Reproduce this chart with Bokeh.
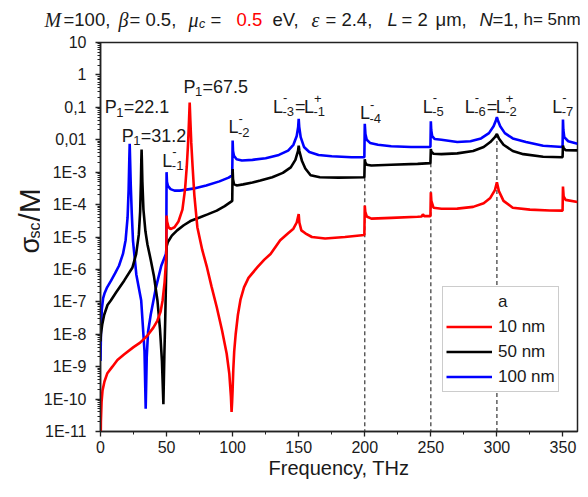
import math
from bokeh.plotting import figure
from bokeh.models import Range1d, FixedTicker, Label, Legend, LegendItem
from bokeh.layouts import column, row
from bokeh.embed import file_html
from bokeh.resources import INLINE

# ---------------- data ----------------
freq_100nm = [0.0, 0.4, 1.0, 2.0, 3.0, 5.0, 8.0, 11.0, 14.0, 17.0, 19.0, 20.5, 21.3, 21.8, 22.1,
              22.4, 22.9, 23.7, 24.6, 27.1, 30.8, 33.3, 34.2, 35.0, 36.0, 38.0, 42.0, 46.0, 49.5,
              49.8, 50.0, 50.3, 51.0, 53.0, 56.0, 60.0, 70.0, 80.0, 90.0, 97.0, 99.7, 100.0, 100.3,
              101.0, 103.0, 107.0, 115.0, 125.0, 135.0, 142.0, 146.0, 148.5, 149.6, 150.0, 150.4,
              151.5, 154.0, 158.0, 165.0, 175.0, 190.0, 199.7, 200.0, 200.5, 201.5, 204.0, 210.0,
              220.0, 235.0, 249.7, 250.0, 250.3, 251.0, 253.0, 258.0, 270.0, 280.0, 288.0, 294.0,
              297.5, 299.3, 300.0, 300.7, 302.5, 306.0, 312.0, 322.0, 335.0, 349.7, 350.0, 350.3,
              351.0, 354.0, 361.0]
sigma_100nm = [1.5e-9, 1.5e-8, 6e-8, 1.3e-7, 1.8e-7, 2.8e-7, 4.5e-7, 7.5e-7, 1.3e-6, 3e-6, 8e-6,
               4e-5, 3e-4, 2.5e-3, 7.5e-3,
               2.5e-3, 4e-4, 5e-5, 7.6e-6, 7e-7, 1.1e-7, 3e-9, 5e-11, 2e-9, 1.2e-8, 4e-8, 2.8e-7,
               1.3e-6, 3e-6,
               4e-6, 1e-3, 5e-4, 3.8e-4, 3e-4, 2.7e-4, 2.7e-4, 3.1e-4, 3.9e-4, 5.2e-4, 6.8e-4, 8e-4,
               9.5e-3, 4.5e-3,
               3.2e-3, 2.5e-3, 2.3e-3, 2.4e-3, 2.7e-3, 3.4e-3, 4.6e-3, 7e-3, 1.3e-2, 2.5e-2, 4.4e-2,
               2.5e-2,
               1.2e-2, 6e-3, 4.2e-3, 3.4e-3, 3.1e-3, 2.9e-3, 2.9e-3, 3.1e-2, 1.5e-2, 1e-2, 8e-3,
               7e-3,
               6.3e-3, 6e-3, 6e-3, 3.7e-2, 2e-2, 1.3e-2, 1.05e-2, 1e-2, 8.5e-3, 9e-3, 1.1e-2, 1.6e-2,
               2.6e-2, 4e-2, 5e-2, 4e-2, 2.6e-2, 1.6e-2, 1.1e-2, 8.5e-3, 6.5e-3, 6e-3, 4.2e-2, 2e-2,
               1.2e-2, 9e-3, 7.5e-3]

freq_50nm = [0.0, 0.3, 1.3, 2.8, 5.3, 7.8, 12.0, 17.9, 24.2, 27.0, 29.0, 30.0, 30.6, 30.9, 31.1,
             31.3, 31.7, 32.5, 34.0, 35.5, 38.0, 40.5, 43.1, 45.0, 46.5, 47.6, 48.3, 49.0, 49.6,
             49.9, 50.0, 51.0, 54.0, 58.0, 63.0, 68.0, 75.0, 81.0, 88.0, 94.0, 99.7, 100.0, 100.3,
             101.0, 103.0, 108.0, 115.0, 121.0, 130.0, 138.0, 144.0, 147.5, 149.5, 150.0, 150.5,
             152.5, 155.0, 159.0, 166.0, 180.0, 199.7, 200.0, 200.4, 201.5, 205.0, 220.0, 240.0,
             249.7, 250.0, 250.4, 252.0, 258.0, 270.0, 282.0, 290.0, 295.0, 298.5, 300.0, 301.5,
             305.0, 312.0, 320.0, 335.0, 349.7, 350.0, 350.5, 352.0, 361.0]
sigma_50nm = [6e-9, 1e-8, 2e-8, 4e-8, 8e-8, 1.1e-7, 2e-7, 4.5e-7, 1.15e-6, 3e-6, 1.2e-5, 6e-5,
              5e-4, 2.5e-3, 5e-3,
              2.5e-3, 5e-4, 7e-5, 1.5e-5, 6e-6, 2e-6, 6e-7, 1.1e-7, 1.5e-8, 1.5e-9, 7e-11, 2e-9,
              3e-8, 5e-7,
              2e-6, 5e-6, 7e-6, 1.1e-5, 1.6e-5, 2.3e-5, 3.1e-5, 4e-5, 5e-5, 6.5e-5, 9e-5, 1.3e-4,
              1.25e-3, 6e-4,
              4.3e-4, 3.9e-4, 4.2e-4, 4.8e-4, 5.5e-4, 7e-4, 9.5e-4, 1.4e-3, 2.4e-3, 4.5e-3, 6.6e-3,
              4.5e-3,
              2.2e-3, 1.3e-3, 8e-4, 7e-4, 6.8e-4, 7e-4, 2.5e-3, 2e-3, 1.7e-3, 1.6e-3, 1.7e-3, 1.8e-3,
              1.9e-3, 5.2e-3, 4.3e-3, 3.7e-3, 3.6e-3, 3.8e-3, 4.5e-3, 6e-3, 8.5e-3, 1.2e-2, 1.5e-2,
              1.1e-2,
              7e-3, 4.5e-3, 3.6e-3, 3e-3, 2.9e-3, 6.6e-3, 5.5e-3, 4.8e-3, 4.7e-3]

freq_10nm = [0.0, 0.3, 0.8, 1.5, 3.0, 5.2, 9.0, 12.8, 18.0, 25.0, 30.0, 35.4, 40.0, 43.0, 45.5,
             47.0, 48.5, 49.3, 49.8, 50.0, 50.4, 51.5, 53.0, 56.0, 59.0, 62.0, 64.0, 65.3, 66.3,
             67.0, 67.5, 68.0, 68.7, 69.7, 71.0, 73.3, 77.0, 80.6, 84.0, 88.0, 92.0, 95.5, 97.5,
             98.7, 99.2, 99.6, 100.0, 100.5, 101.2, 102.3, 104.0, 106.0, 108.6, 112.0, 118.6,
             124.0, 128.7, 136.0, 142.0, 146.0, 148.5, 150.0, 150.5, 152.0, 155.0, 160.0, 170.0,
             185.0, 199.7, 200.0, 200.4, 201.5, 205.0, 220.0, 240.0, 243.0, 244.0, 245.0, 249.7,
             250.0, 250.4, 252.0, 258.0, 270.0, 282.0, 290.0, 295.0, 298.5, 300.0, 301.5, 305.0,
             312.0, 325.0, 340.0, 349.7, 350.0, 350.5, 352.0, 361.0]
sigma_10nm = [1e-12, 2e-11, 8e-11, 1.8e-10, 3.5e-10, 6.3e-10, 1e-9, 1.6e-9, 2.4e-9, 4e-9, 5.5e-9,
              9e-9, 1.6e-8, 2.6e-8, 5e-8,
              1.1e-7, 4e-7, 1.2e-6, 3e-6, 4.6e-5, 3e-5, 2e-5, 1.75e-5, 2e-5, 3e-5, 7e-5, 3e-4,
              1.5e-3, 8e-3,
              4e-2, 1.4e-1, 4e-2, 8e-3, 1.5e-3, 2e-4, 2e-5, 4e-6, 1.15e-6, 3e-7, 6.8e-8, 1.3e-8,
              2.5e-9, 6e-10,
              1.2e-10, 4e-11, 8e-11, 2e-10, 8e-10, 3e-9, 1e-8, 4e-8, 1.2e-7, 2.8e-7, 5.5e-7, 1.15e-6,
              2e-6, 3e-6, 7.9e-6, 1.3e-5, 1.8e-5, 2.8e-5, 5.1e-5, 2.8e-5, 1.6e-5, 1.3e-5, 1e-5,
              9e-6,
              1e-5, 1.15e-5, 9.3e-5, 6e-5, 4.3e-5, 3.7e-5, 3.9e-5, 4.2e-5, 4.3e-5, 5e-5, 4.4e-5,
              4.4e-5,
              2.4e-4, 1.3e-4, 8e-5, 7.4e-5, 7.5e-5, 8.5e-5, 1.1e-4, 1.6e-4, 2.8e-4, 4.9e-4, 2.6e-4,
              1.3e-4,
              8e-5, 7e-5, 6.6e-5, 6.5e-5, 3.6e-4, 1.8e-4, 1.4e-4, 1.2e-4]

dash_freq = [200, 250, 300]
dash_top = [7e-4, 1.9e-3, 1.5e-2]

x_ticks = [0, 50, 100, 150, 200, 250, 300, 350]
x_minor = [25, 75, 125, 175, 225, 275, 325]
y_exps = list(range(-11, 2))
y_tick_labels = ["1E-11", "1E-10", "1E-9", "1E-8", "1E-7", "1E-6", "1E-5", "1E-4", "1E-3",
                 "0,01", "0,1", "1", "10"]
legend_labels = ["10 nm", "50 nm", "100 nm"]

FONT = "Liberation Sans"
SERIF = "Liberation Serif"
TXT = "#1a1a1a"

TOTAL_W, TITLE_H, YLAB_W = 580, 32, 40
MAIN_H = 489 - TITLE_H
BORDER_TOP, BORDER_BOTTOM = 42 - TITLE_H, 58
FRAME_H = MAIN_H - BORDER_TOP - BORDER_BOTTOM
FRAME_BOTTOM_PAGE = TITLE_H + MAIN_H - BORDER_BOTTOM


def add_text(fig, x, y, text, dx=0, dy=0, size=18, color=TXT, font=FONT, style="normal",
             angle=0.0, baseline="alphabetic"):
    fig.add_layout(Label(x=x, y=y, text=text, x_offset=dx, y_offset=dy, text_font=font,
                         text_font_size=f"{size}px", text_color=color,
                         text_font_style=style, text_align="left",
                         text_baseline=baseline, angle=angle))


def blank_fig(w, h, yr, top=0, bottom=0):
    f = figure(width=w, height=h, output_backend="svg", toolbar_location=None,
               x_range=Range1d(0, w), y_range=Range1d(0, yr), min_border_left=0,
               min_border_right=0, min_border_top=top, min_border_bottom=bottom,
               x_axis_location=None, y_axis_location=None)
    f.outline_line_color = None
    f.grid.visible = False
    f.background_fill_color = "white"
    f.border_fill_color = "white"
    return f


# ---------------- title strip ----------------
tf = blank_fig(TOTAL_W, TITLE_H, TITLE_H)
TB = TITLE_H - 19  # baseline at page y = 19


def tt(px, text, size=18.5, color=TXT, font=FONT, style="normal", dy=0):
    add_text(tf, px, TB, text, dy=dy, size=size, color=color, font=font, style=style)


tt(44, "M", size=20, font=SERIF, style="italic")
tt(63, "=100,")
tt(118, "β", size=20, font=SERIF, style="italic")
tt(129, "= 0.5,")
tt(188, "μ", size=20, font=SERIF, style="italic")
tt(198.5, "c", size=12.5, style="italic", dy=-4)
tt(210, "=")
tt(236, "0.5", color="#ff0000")
tt(272, "eV,")
tt(311, "ε", size=20, font=SERIF, style="italic")
tt(325, "= 2.4,")
tt(387, "L", style="italic")
tt(401, "= 2")
tt(435, "μm,")
tt(479, "N", style="italic")
tt(492, "=1,")
tt(523, "h= 5nm", size=17)

# ---------------- y-label strip (frame aligned with the main frame) ----------------
yf = blank_fig(YLAB_W, MAIN_H, FRAME_H, top=BORDER_TOP, bottom=BORDER_BOTTOM)
add_text(yf, 29.0, FRAME_BOTTOM_PAGE - 253, "σ", size=27, angle=math.pi / 2, baseline="middle")
add_text(yf, 33.5, FRAME_BOTTOM_PAGE - 238, "sc", size=16, angle=math.pi / 2, baseline="middle")
add_text(yf, 28.5, FRAME_BOTTOM_PAGE - 221, "/M", size=30, angle=math.pi / 2, baseline="middle")

# ---------------- main plot ----------------
p = figure(width=TOTAL_W - YLAB_W, height=MAIN_H, output_backend="svg", toolbar_location=None,
           x_range=Range1d(0, 361), y_range=Range1d(1e-11, 10), y_axis_type="log",
           min_border_left=60, min_border_right=3, min_border_top=BORDER_TOP,
           min_border_bottom=BORDER_BOTTOM)
p.background_fill_color = "white"
p.border_fill_color = "white"
p.outline_line_color = "#222222"
p.outline_line_width = 1.5
p.xgrid.visible = False
p.ygrid.visible = False

y_major = [10.0 ** e for e in y_exps]
y_minor = [m * 10.0 ** e for e in y_exps[:-1] for m in range(2, 10)]
p.xaxis.ticker = FixedTicker(ticks=x_ticks, minor_ticks=x_minor)
p.yaxis.ticker = FixedTicker(ticks=y_major, minor_ticks=y_minor)
p.yaxis.major_label_overrides = {v: s for v, s in zip(y_major, y_tick_labels)}

for ax in (p.xaxis, p.yaxis):
    ax.axis_line_width = 1.5
    ax.axis_line_color = "#222222"
    ax.major_tick_line_color = "#222222"
    ax.minor_tick_line_color = "#222222"
    ax.major_tick_line_width = 1.3
    ax.major_tick_out = 5
    ax.major_tick_in = 0
    ax.minor_tick_out = 3
    ax.minor_tick_in = 0
    ax.major_label_text_font = FONT
    ax.major_label_text_font_size = "16px"
    ax.major_label_text_color = TXT
p.yaxis.major_label_standoff = 9
p.xaxis.major_label_standoff = 4
p.xaxis.axis_label = "Frequency, THz"
p.xaxis.axis_label_text_font = FONT
p.xaxis.axis_label_text_font_size = "20px"
p.xaxis.axis_label_text_font_style = "normal"
p.xaxis.axis_label_text_color = TXT
p.xaxis.axis_label_standoff = 1

# dashed guides
p.segment(x0=dash_freq, y0=dash_top, x1=dash_freq, y1=[1e-11] * len(dash_freq),
          line_color="#444444", line_width=1.3, line_dash="4 3")

r_blue = p.line(freq_100nm, sigma_100nm, line_color="#0000ff", line_width=2.6)
r_black = p.line(freq_50nm, sigma_50nm, line_color="#000000", line_width=2.6)
r_red = p.line(freq_10nm, sigma_10nm, line_color="#ff0000", line_width=2.6)

legend = Legend(items=[LegendItem(label="a", renderers=[]),
                       LegendItem(label=legend_labels[0], renderers=[r_red]),
                       LegendItem(label=legend_labels[1], renderers=[r_black]),
                       LegendItem(label=legend_labels[2], renderers=[r_blue])],
                location=(342, 39), glyph_width=46, glyph_height=23, label_height=23,
                label_standoff=6, padding=3, spacing=2, margin=0,
                border_line_color="#999999", border_line_width=1,
                background_fill_color="white", background_fill_alpha=1.0,
                label_text_font=FONT, label_text_font_size="17px", label_text_color=TXT)
p.add_layout(legend)


def p_label(x, y, rest):
    add_text(p, x, y, "P")
    add_text(p, x, y, "1", dx=11.5, dy=-5, size=13)
    add_text(p, x, y, rest, dx=19)


def l_label(x, y, n, m=None):
    add_text(p, x, y, "L")
    add_text(p, x, y, "-", dx=10, dy=9, size=13)
    add_text(p, x, y, n, dx=9.5, dy=-5, size=13)
    if m is not None:
        add_text(p, x, y, "=", dx=22)
        add_text(p, x, y, "L", dx=31)
        add_text(p, x, y, "+", dx=41, dy=8, size=13)
        add_text(p, x, y, m, dx=40.5, dy=-5, size=13)


p_label(3.2, 0.1, "=22.1")
p_label(16.1, 0.0133, "=31.2")
p_label(62.8, 0.43, "=67.5")
l_label(46.8, 2.24e-3, "-1")
l_label(96.8, 0.0239, "-2")
l_label(130.5, 0.104, "-3", "-1")
l_label(196.3, 0.0646, "-4")
l_label(243.9, 0.104, "-5")
l_label(275.6, 0.104, "-6", "-2")
l_label(341.9, 0.104, "-7")

layout = column(tf, row(yf, p))
open("out.html", "w").write(file_html(layout, INLINE))
